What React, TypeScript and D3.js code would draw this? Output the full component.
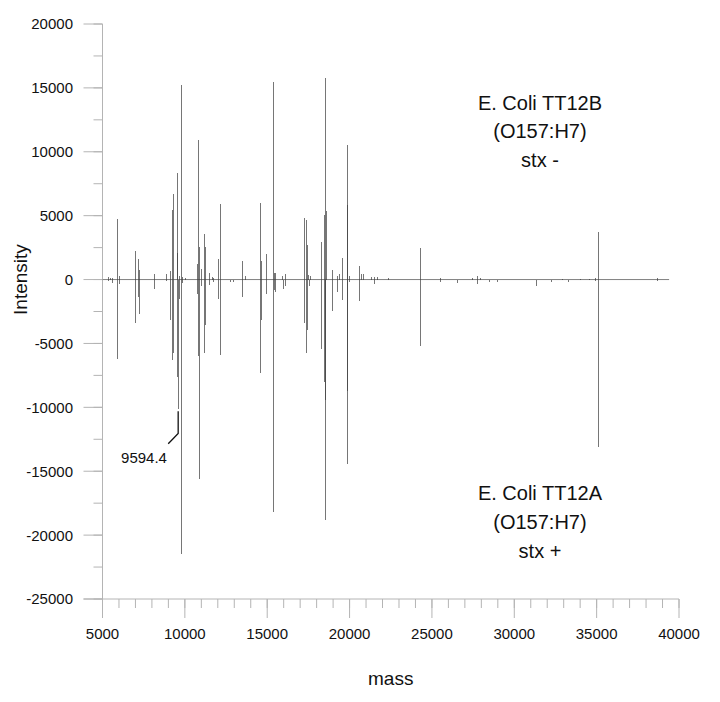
import React from 'react';
import * as d3 from 'd3';

// peaks of the upper spectrum (E. Coli TT12B, stx -)
const topMass = [5350, 5450, 5600, 5900, 5980, 6990, 7170, 7230, 8150, 8860, 9120, 9240, 9260, 9500, 9540, 9650, 9750, 9850, 10000, 10740, 10820, 10880, 10950, 11180, 11220, 11490, 11650, 11700, 12030, 12150, 13470, 13680, 14590, 14610, 14950, 15350, 15400, 15480, 15920, 16100, 17250, 17370, 17390, 17500, 17600, 18290, 18470, 18530, 18550, 18950, 19260, 19380, 19520, 19830, 19850, 19970, 20570, 20680, 20800, 21290, 21500, 21650, 22320, 24300, 25510, 27410, 27760, 27920, 32880, 34010, 34560, 34920, 35060, 38650];
const topIntensity = [200, 150, 150, 4770, 300, 2240, 1640, 730, 470, 430, 640, 5420, 6730, 2050, 8340, 300, 15200, 200, 100, 1200, 10900, 2550, 800, 3600, 2550, 500, 200, 150, 1580, 5890, 1430, 300, 6020, 1430, 2030, 15500, 500, 500, 300, 470, 4830, 4640, 2680, 340, 300, 2940, 5030, 15780, 5380, 730, 260, 420, 1720, 10510, 5810, 250, 1040, 420, 470, 210, 200, 210, 160, 2480, 130, 100, 250, 100, 60, 60, 60, 100, 3720, 100];

// peaks of the lower spectrum (E. Coli TT12A, stx +)
const bottomMass = [5350, 5600, 5900, 5980, 7000, 7170, 7230, 8150, 8860, 9120, 9240, 9260, 9540, 9594.4, 9650, 9750, 9850, 10740, 10820, 10840, 10950, 11180, 11220, 11490, 11700, 12030, 12150, 12750, 12900, 13470, 14590, 14610, 14950, 15350, 15400, 15480, 15940, 16100, 17250, 17370, 17390, 17550, 18290, 18440, 18500, 18530, 18950, 19260, 19520, 19830, 19850, 19970, 20570, 21500, 24300, 25510, 26500, 27760, 28450, 28950, 31320, 32230, 33280, 34920, 35060, 38650];
const bottomIntensity = [-150, -250, -6210, -370, -3370, -1360, -2660, -700, -100, -3180, -6260, -5780, -7620, -10100, -1490, -21440, -300, -1100, -6000, -15570, -500, -5740, -3570, -440, -200, -1490, -5870, -180, -180, -1360, -7300, -3130, -1100, -18230, -800, -1000, -700, -520, -3390, -5740, -3970, -520, -5400, -8010, -9440, -18780, -2450, -960, -1620, -14400, -8710, -200, -1670, -370, -5190, -180, -260, -310, -180, -160, -520, -200, -200, -100, -13100, -100];

const massRange = [5000, 39400];

const xTicks = [5000, 10000, 15000, 20000, 25000, 30000, 35000, 40000];
const xMinorTicks = d3.range(5000, 40001, 1000);
const yTicks = [20000, 15000, 10000, 5000, 0, -5000, -10000, -15000, -20000, -25000];
const yMinorTicks = d3.range(-25000, 20001, 2500);

const topLabel = ['E. Coli TT12B', '(O157:H7)', 'stx -'];
const bottomLabel = ['E. Coli TT12A', '(O157:H7)', 'stx +'];

const annotationMass = 9594.4;
const annotationText = '9594.4';

export default function App() {
    const width = 720;
    const height = 702;
    const margin = { top: 24, right: 41, bottom: 103, left: 102.5 };

    const x = d3.scaleLinear()
        .domain([5000, 40000])
        .range([margin.left, width - margin.right]);

    const y = d3.scaleLinear()
        .domain([-25000, 20000])
        .range([height - margin.bottom, margin.top]);

    const axisColor = '#b4b4b4';
    const peakColor = '#3c3c3c';
    const font = 'Liberation Sans, Arial, sans-serif';

    const y0 = y(-25000);

    // label leader for the annotated peak
    const leader = d3.line<[number, number]>()
        .x(d => x(d[0]))
        .y(d => y(d[1]));
    const leaderPts: [number, number][] = [
        [annotationMass, -10300],
        [annotationMass, -12050],
        [8990, -12850],
    ];

    return (
        <svg width={width} height={height} style={{ position: 'absolute', left: 0, top: 0, background: '#fff' }}>
            {/* y axis */}
            <g>
                <line x1={x(5000)} x2={x(5000)} y1={y(20000)} y2={y0 + 19} stroke={axisColor} />
                {yMinorTicks.map(t => (
                    <line key={'ym' + t} x1={x(5000) - 9} x2={x(5000)} y1={y(t)} y2={y(t)} stroke={axisColor} />
                ))}
                {yTicks.map(t => (
                    <g key={'y' + t}>
                        <line x1={x(5000) - 19} x2={x(5000)} y1={y(t)} y2={y(t)} stroke={axisColor} />
                        <text x={73} y={y(t)} dy="0.36em" textAnchor="end" fontSize={15} fontFamily={font} fill="#111">{t}</text>
                    </g>
                ))}
            </g>

            {/* x axis */}
            <g>
                <line x1={x(5000) - 19} x2={x(40000)} y1={y0} y2={y0} stroke={axisColor} />
                {xMinorTicks.map(t => (
                    <line key={'xm' + t} x1={x(t)} x2={x(t)} y1={y0} y2={y0 + 9} stroke={axisColor} />
                ))}
                {xTicks.map(t => (
                    <g key={'x' + t}>
                        <line x1={x(t)} x2={x(t)} y1={y0} y2={y0 + 19} stroke={axisColor} />
                        <text x={x(t)} y={y0 + 40} textAnchor="middle" fontSize={15} fontFamily={font} fill="#111">{t}</text>
                    </g>
                ))}
            </g>

            {/* baseline */}
            <line x1={x(massRange[0])} x2={x(massRange[1])} y1={y(0)} y2={y(0)} stroke="#808080" />

            {/* spectra */}
            <g stroke={peakColor} strokeOpacity={0.7} shapeRendering="crispEdges">
                {topMass.map((m, i) => (
                    <line key={'t' + i} x1={Math.round(x(m)) + 0.5} x2={Math.round(x(m)) + 0.5} y1={y(0)} y2={y(topIntensity[i])} />
                ))}
                {bottomMass.map((m, i) => (
                    <line key={'b' + i} x1={Math.round(x(m)) + 0.5} x2={Math.round(x(m)) + 0.5} y1={y(0)} y2={y(bottomIntensity[i])} />
                ))}
            </g>

            {/* annotation */}
            <path d={leader(leaderPts) || ''} fill="none" stroke="#111" strokeWidth={1.3} />
            <text x={x(7520)} y={y(-13930)} dy="0.36em" textAnchor="middle" fontSize={15} fontFamily={font} fill="#111">{annotationText}</text>

            {/* sample labels */}
            {topLabel.map((s, i) => (
                <text key={'tl' + i} x={x(31560)} y={y(13850) + i * 28.5} dy="0.36em" textAnchor="middle" fontSize={20} fontFamily={font} fill="#111">{s}</text>
            ))}
            {bottomLabel.map((s, i) => (
                <text key={'bl' + i} x={x(31560)} y={y(-16670) + i * 29} dy="0.36em" textAnchor="middle" fontSize={20} fontFamily={font} fill="#111">{s}</text>
            ))}

            {/* axis titles */}
            <text x={x(22500)} y={685} textAnchor="middle" fontSize={19} fontFamily={font} fill="#111">mass</text>
            <text transform={`translate(27, ${y(0)}) rotate(-90)`} textAnchor="middle" fontSize={19} fontFamily={font} fill="#111">Intensity</text>
        </svg>
    );
}
